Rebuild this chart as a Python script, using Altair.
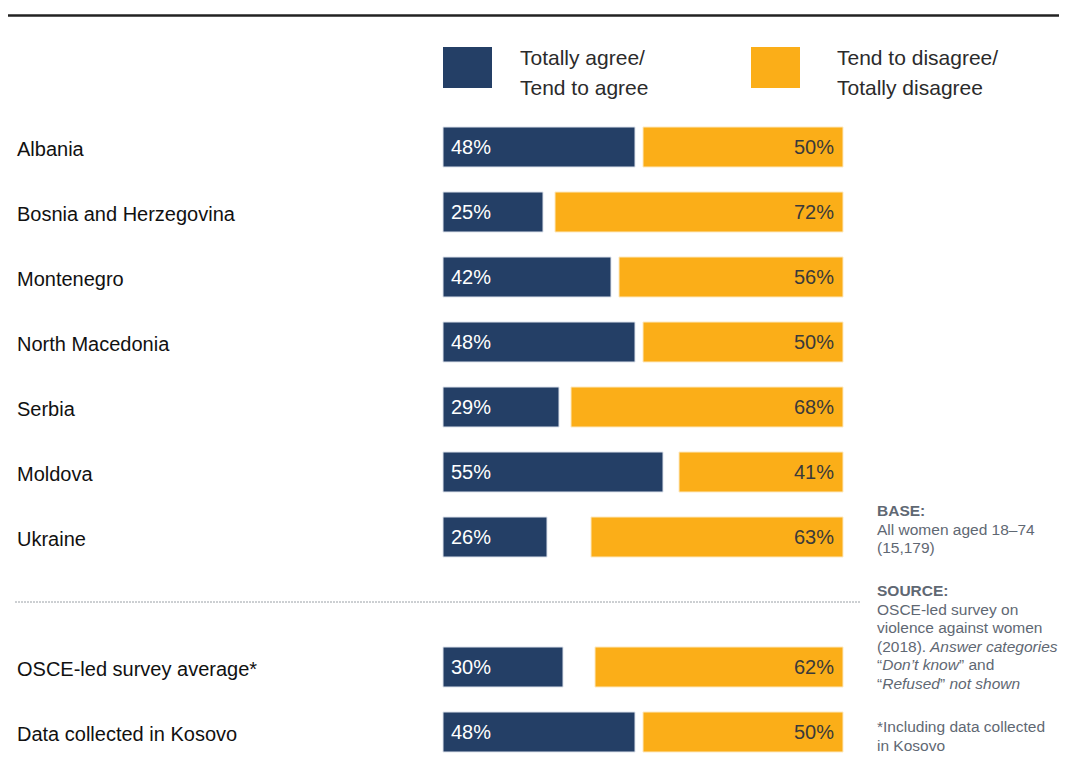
import altair as alt
import pandas as pd

# ---------------- data ----------------
countries = [
    "Albania",
    "Bosnia and Herzegovina",
    "Montenegro",
    "North Macedonia",
    "Serbia",
    "Moldova",
    "Ukraine",
    "OSCE-led survey average*",
    "Data collected in Kosovo",
]
agree = [48, 25, 42, 48, 29, 55, 26, 30, 48]
disagree = [50, 72, 56, 50, 68, 41, 63, 62, 50]

series_names = ["Totally agree/\nTend to agree", "Tend to disagree/\nTotally disagree"]

NX = 869
note_lines = [
    # (text, x, baseline y, weight, style)
    ("BASE:", NX, 508, "bold", "normal"),
    ("All women aged 18\u201374", NX, 526.5, "normal", "normal"),
    ("(15,179)", NX, 545, "normal", "normal"),
    ("SOURCE:", NX, 588, "bold", "normal"),
    ("OSCE-led survey on", NX, 606.5, "normal", "normal"),
    ("violence against women", NX, 625, "normal", "normal"),
    ("(2018).", NX, 643.5, "normal", "normal"),
    ("Answer categories", NX + 53, 643.5, "normal", "italic"),
    ("\u201c", NX, 662, "normal", "normal"),
    ("Don\u2019t know", NX + 5.2, 662, "normal", "italic"),
    ("\u201d and", NX + 82, 662, "normal", "normal"),
    ("\u201c", NX, 680.5, "normal", "normal"),
    ("Refused", NX + 5.2, 680.5, "normal", "italic"),
    ("\u201d", NX + 63, 680.5, "normal", "normal"),
    ("not shown", NX + 72.5, 680.5, "normal", "italic"),
    ("*Including data collected", NX, 724, "normal", "normal"),
    ("in Kosovo", NX, 742.5, "normal", "normal"),
]

# ---------------- styling ----------------
FONT = "Liberation Sans"
NAVY = "#243f66"
ORANGE = "#fbae18"
W, H = 1051, 755
spacer = " "
row_order = countries[:7] + [spacer] + countries[7:]

df = pd.DataFrame({"country": countries, "agree": agree, "disagree": disagree})
df["start"] = 0
df["end"] = 100
df["dis_start"] = 100 - df["disagree"]
df["agree_label"] = df["agree"].astype(str) + "%"
df["dis_label"] = df["disagree"].astype(str) + "%"

x_scale = alt.Scale(domain=[-108.75, -108.75 + W / 4], nice=False, zero=False)
y_scale = alt.Scale(
    domain=row_order,
    range=[106.5, 756.5],
    paddingInner=25 / 65,
    paddingOuter=12.5 / 65,
)
Y = alt.Y("country:N", scale=y_scale, axis=None, sort=row_order)

base = alt.Chart(df)

agree_bar = base.mark_bar(color=NAVY, stroke="#dde3ec", strokeWidth=1).encode(
    x=alt.X("start:Q", scale=x_scale, axis=None),
    x2="agree:Q",
    y=Y,
)
dis_bar = base.mark_bar(color=ORANGE, stroke="#fde9c0", strokeWidth=1).encode(
    x=alt.X("dis_start:Q", scale=x_scale, axis=None),
    x2="end:Q",
    y=Y,
)
agree_txt = base.mark_text(
    align="left", baseline="middle", dx=8, dy=1, color="white", fontSize=20, font=FONT
).encode(x=alt.X("start:Q", scale=x_scale, axis=None), y=Y, text="agree_label:N")
dis_txt = base.mark_text(
    align="right", baseline="middle", dx=-9, dy=1, color="#3a3a3a", fontSize=20, font=FONT
).encode(x=alt.X("end:Q", scale=x_scale, axis=None), y=Y, text="dis_label:N")
country_txt = base.mark_text(
    align="left", baseline="middle", dy=3, color="#111111", fontSize=20, font=FONT
).encode(x=alt.value(9), y=Y, text="country:N")

# separator at the spacer row
sep = alt.Chart(pd.DataFrame({"country": [spacer]})).mark_rule(
    color="#9aa0a6", strokeDash=[2, 1], strokeWidth=1
).encode(x=alt.value(7), x2=alt.value(853), y=Y)

# top rule
one = pd.DataFrame({"k": [0]})
top_rule = alt.Chart(one).mark_rule(color="#222222", strokeWidth=2.5).encode(
    x=alt.value(0), x2=alt.value(W), y=alt.value(7.5)
)

# legend (manual)
leg_layers = []
for i, (name, col) in enumerate(zip(series_names, [NAVY, ORANGE])):
    sx = 435 if i == 0 else 743
    tx = 512 if i == 0 else 829
    leg_layers.append(
        alt.Chart(one).mark_rect(color=col).encode(
            x=alt.value(sx), x2=alt.value(sx + 49), y=alt.value(39), y2=alt.value(80)
        )
    )
    for j, line in enumerate(name.split("\n")):
        leg_layers.append(
            alt.Chart(one).mark_text(
                align="left", baseline="alphabetic", fontSize=21, font=FONT, color="#2b2b2b"
            ).encode(x=alt.value(tx), y=alt.value(57 + 30 * j), text=alt.value(line))
        )

# notes
note_layers = []
for text, nx, ny, weight, style in note_lines:
    note_layers.append(
        alt.Chart(one).mark_text(
            align="left",
            baseline="alphabetic",
            fontSize=15.5,
            font=FONT,
            color="#5f6873",
            fontWeight=weight,
            fontStyle=style,
        ).encode(x=alt.value(nx), y=alt.value(ny), text=alt.value(text))
    )

chart = alt.layer(
    top_rule, sep, agree_bar, dis_bar, agree_txt, dis_txt, country_txt, *leg_layers, *note_layers
).properties(
    width=W,
    height=H,
    autosize=alt.AutoSizeParams(type="none"),
    padding=0,
).configure_view(stroke=None)

chart.save("out.html", embed_options={"renderer": "svg", "actions": False})
